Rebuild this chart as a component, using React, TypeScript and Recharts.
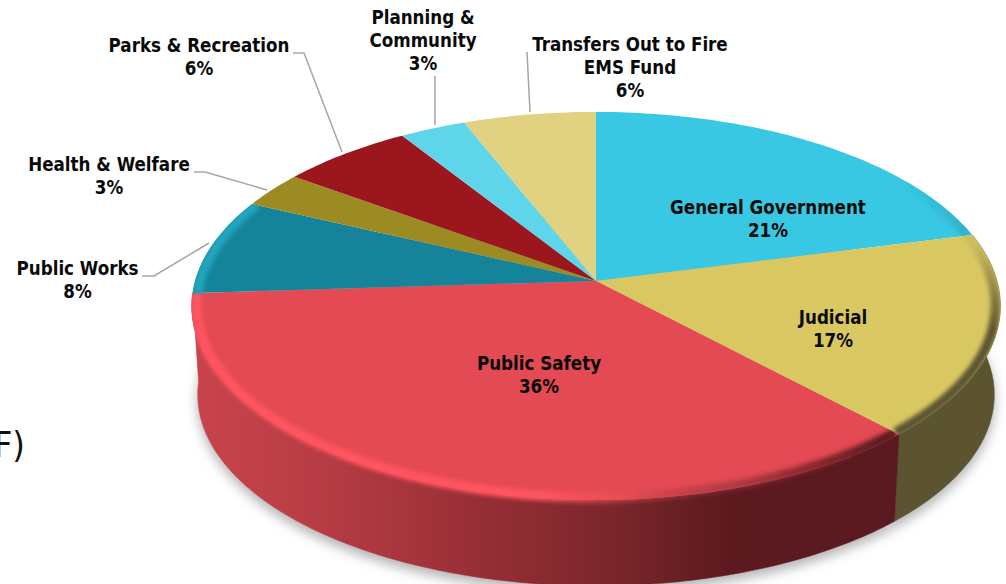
import { Pie, PieChart } from "recharts";

const categories = [
  "General Government",
  "Judicial",
  "Public Safety",
  "Public Works",
  "Health & Welfare",
  "Parks & Recreation",
  "Planning & Community",
  "Transfers Out to Fire EMS Fund",
];
const shares = [21, 17, 36, 8, 3, 6, 3, 6];
const labelLines = [
  ["General Government"],
  ["Judicial"],
  ["Public Safety"],
  ["Public Works"],
  ["Health & Welfare"],
  ["Parks & Recreation"],
  ["Planning &", "Community"],
  ["Transfers Out to Fire", "EMS Fund"],
];

const faceColors = ["#38c8e3", "#d9c862", "#e34a53", "#15849a", "#9c8b22", "#9b171d", "#5fd5ea", "#e1d282"];
const wallColors = ["#1f7385", "#5c5430", "url(#safetyWall)", "#0c4f5c", "#5c5214", "#5c0e11", "#387f8c", "#86794a"];
const rimColors = ["url(#coolRim)", "url(#judicialRim)", "url(#safetyRim)", "#22a5bd", "none", "none", "none", "none"];

// first-line centre of each label and the leader that ties it to its slice
const labelAnchors = [
  { x: 768, y: 208, leader: "" },
  { x: 833, y: 318, leader: "" },
  { x: 539, y: 364, leader: "" },
  { x: 77.5, y: 269, leader: "142,276 154,276 209,243" },
  { x: 109, y: 165, leader: "194,172 205,172 267,190" },
  { x: 199, y: 46, leader: "293,53 304,53 342,152" },
  { x: 423, y: 18, leader: "435,76 435,125" },
  { x: 630, y: 45, leader: "527,52 530,112" },
];

const rows = categories.map((name, i) => ({ name, share: shares[i] }));

const WIDTH = 1006;
const HEIGHT = 584;
const FONT = '"DejaVu Sans Condensed", "DejaVu Sans", sans-serif';

// tilted disc: the far side shrinks, the near side grows
const SQUASH = 0.476;
const PERSPECTIVE = 0.129;
const DEPTH = 89;
const FLOOR_SCALE = 0.985;

type SliceProps = {
  cx: number;
  cy: number;
  outerRadius: number;
  startAngle: number;
  endAngle: number;
  midAngle: number;
  name: string;
};

function discPoint(p: SliceProps, angle: number, scale = 1, drop = 0) {
  const t = ((90 - angle) * Math.PI) / 180;
  const u = Math.sin(t);
  const v = -Math.cos(t);
  const s = 1 / (1 - PERSPECTIVE * v);
  const x = p.cx + p.outerRadius * scale * u * s;
  const y = p.cy + drop + p.outerRadius * SQUASH * scale * v * s;
  return `${x.toFixed(1)} ${y.toFixed(1)}`;
}

function arcPoints(p: SliceProps, from: number, to: number, scale = 1, drop = 0) {
  const steps = Math.max(2, Math.ceil(Math.abs(to - from)));
  const pts: string[] = [];
  for (let i = 0; i <= steps; i++) {
    pts.push(discPoint(p, from + ((to - from) * i) / steps, scale, drop));
  }
  return pts;
}

function facePath(p: SliceProps) {
  return `M${p.cx} ${p.cy} L${arcPoints(p, p.startAngle, p.endAngle).join(" L")} Z`;
}

function wallPath(p: SliceProps) {
  const top = arcPoints(p, p.startAngle, p.endAngle);
  const bottom = arcPoints(p, p.endAngle, p.startAngle, FLOOR_SCALE, DEPTH);
  return `M${top.join(" L")} L${bottom.join(" L")} Z`;
}

function floorPath(p: SliceProps) {
  const c = `${p.cx} ${p.cy + DEPTH + 6}`;
  return `M${c} L${arcPoints(p, p.startAngle, p.endAngle, FLOOR_SCALE, DEPTH + 6).join(" L")} Z`;
}

// slices on the far half of the disc have no wall in view
function facesViewer(p: SliceProps) {
  return Math.sin((p.midAngle * Math.PI) / 180) < 0;
}

const ShadowSlice = (props: any) => (
  <path d={floorPath(props)} fill="#b4b4b4" stroke="#b4b4b4" filter="url(#softShadow)" />
);

const WallSlice = (props: any) => {
  if (!facesViewer(props)) return <g />;
  const i = categories.indexOf(props.name);
  return <path d={wallPath(props)} fill={wallColors[i]} stroke={wallColors[i]} strokeWidth={0.5} />;
};

const FaceSlice = (props: any) => {
  const i = categories.indexOf(props.name);
  const rim = rimColors[i];
  return (
    <g>
      <clipPath id={`slice-${i}`}>
        <path d={facePath(props)} />
        <path d={wallPath(props)} />
      </clipPath>
      <path d={facePath(props)} fill={faceColors[i]} />
      {rim !== "none" && (
        <g clipPath={`url(#slice-${i})`}>
          <path
            d={`M${arcPoints(props, props.startAngle, props.endAngle, 0.988).join(" L")}`}
            fill="none"
            stroke={rim}
            strokeWidth={10}
            filter="url(#softRim)"
          />
        </g>
      )}
    </g>
  );
};

const renderLabel = (props: any) => {
  const i = props.index as number;
  const a = labelAnchors[i];
  const lines = [...labelLines[i], `${shares[i]}%`];
  return (
    <g key={categories[i]}>
      {a.leader && <polyline points={a.leader} fill="none" stroke="#a6a6a6" strokeWidth={1.5} />}
      <text textAnchor="middle" fontFamily={FONT} fontWeight={700} fontSize={18.6} fill="#0a0a0a">
        {lines.map((line, n) => (
          <tspan key={n} x={a.x} y={a.y + n * 23} dy={6}>
            {line}
          </tspan>
        ))}
      </text>
    </g>
  );
};

export default function App() {
  return (
    <div style={{ position: "absolute", left: 0, top: 0, width: WIDTH, height: HEIGHT, background: "#fff", overflow: "hidden" }}>
      <PieChart width={WIDTH} height={HEIGHT} margin={{ top: 0, right: 0, bottom: 0, left: 0 }}>
        <defs>
          <linearGradient id="safetyWall" gradientUnits="userSpaceOnUse" x1={195} y1={0} x2={880} y2={0}>
            <stop offset="0" stopColor="#c9444d" />
            <stop offset="0.22" stopColor="#b33a42" />
            <stop offset="0.4" stopColor="#992f36" />
            <stop offset="0.6" stopColor="#7c272c" />
            <stop offset="0.78" stopColor="#5c1a1f" />
            <stop offset="1" stopColor="#5a1a1f" />
          </linearGradient>
          <linearGradient id="safetyRim" gradientUnits="userSpaceOnUse" x1={190} y1={0} x2={880} y2={0}>
            <stop offset="0" stopColor="#ff5561" />
            <stop offset="0.5" stopColor="#ff5561" />
            <stop offset="0.62" stopColor="#f04f59" stopOpacity="0.6" />
            <stop offset="0.74" stopColor="#9c2f36" stopOpacity="0.5" />
            <stop offset="1" stopColor="#5a1a1f" />
          </linearGradient>
          <linearGradient id="judicialRim" gradientUnits="userSpaceOnUse" x1={0} y1={245} x2={0} y2={330}>
            <stop offset="0" stopColor="#5c5430" stopOpacity="0.1" />
            <stop offset="1" stopColor="#5c5430" />
          </linearGradient>
          <linearGradient id="coolRim" gradientUnits="userSpaceOnUse" x1={900} y1={0} x2={975} y2={0}>
            <stop offset="0" stopColor="#1f7385" stopOpacity="0" />
            <stop offset="1" stopColor="#1f7385" stopOpacity="0.3" />
          </linearGradient>
          <filter id="softShadow" x="-10%" y="-20%" width="120%" height="140%">
            <feGaussianBlur stdDeviation="6" />
          </filter>
          <filter id="softRim" filterUnits="userSpaceOnUse" x="0" y="0" width={WIDTH} height={HEIGHT}>
            <feGaussianBlur stdDeviation="2.2" />
          </filter>
        </defs>
        <text x={25} y={457} textAnchor="end" fontFamily={FONT} fontSize={36} fill="#111">
          F)
        </text>
        <Pie
          data={rows}
          dataKey="share"
          nameKey="name"
          cx={596}
          cy={281}
          outerRadius={401}
          startAngle={90}
          endAngle={-270}
          shape={ShadowSlice}
          isAnimationActive={false}
        />
        <Pie
          data={rows}
          dataKey="share"
          nameKey="name"
          cx={596}
          cy={281}
          outerRadius={401}
          startAngle={90}
          endAngle={-270}
          shape={WallSlice}
          isAnimationActive={false}
        />
        <Pie
          data={rows}
          dataKey="share"
          nameKey="name"
          cx={596}
          cy={281}
          outerRadius={401}
          startAngle={90}
          endAngle={-270}
          shape={FaceSlice}
          label={renderLabel}
          labelLine={false}
          isAnimationActive={false}
        />
      </PieChart>
    </div>
  );
}
